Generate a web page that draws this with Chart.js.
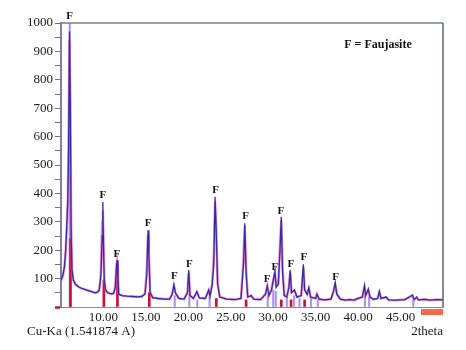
<!DOCTYPE html>
<html>
<head>
<meta charset="utf-8">
<script src="https://cdn.jsdelivr.net/npm/chart.js@4.4.1/dist/chart.umd.min.js"></script>
<style>
html,body{margin:0;padding:0;background:#fff;}
canvas{display:block;}
</style>
</head>
<body>
<canvas id="c" width="466" height="350"></canvas>
<script>
// ---- data ----
const twoTheta = [5.0,5.2,5.4,5.55,5.7,5.8,5.9,6.0,6.1,6.2,6.3,6.45,6.7,7.0,7.4,7.8,8.2,8.6,9.0,9.3,9.5,9.7,9.85,9.93,10.0,10.1,10.25,10.5,10.9,11.2,11.4,11.5,11.6,11.7,11.8,12.2,12.8,13.4,14.0,14.5,14.9,15.1,15.25,15.35,15.5,15.8,16.5,17.2,17.8,18.1,18.3,18.5,18.9,19.5,19.9,20.05,20.2,20.6,21.0,21.3,22.0,22.4,22.55,22.8,23.0,23.15,23.3,23.45,23.7,24.5,25.5,26.2,26.5,26.65,26.8,27.0,27.4,27.7,28.5,29.1,29.3,29.5,29.8,30.0,30.2,30.35,30.6,30.8,30.95,31.1,31.3,31.6,31.85,32.0,32.15,32.5,32.8,33.3,33.55,33.7,34.0,34.2,34.4,35.0,35.15,35.4,36.0,36.8,37.1,37.3,37.5,37.9,38.5,39.0,39.5,40.0,40.5,40.75,40.9,41.2,41.4,41.8,42.3,42.5,42.7,43.3,43.6,44.5,45.5,46.2,46.4,46.6,46.9,47.1,47.8,48.5,49.2,50.0];
const intensity = [95,110,140,200,300,380,560,970,700,250,130,95,80,72,66,62,58,54,50,52,58,110,250,370,220,90,60,50,46,48,70,120,165,110,45,40,38,37,36,37,45,110,270,180,50,33,30,28,28,45,78,48,30,28,50,130,40,30,55,32,30,60,38,75,150,388,250,80,35,28,26,30,150,295,120,35,40,28,26,45,75,40,60,95,125,70,80,200,318,120,40,35,70,130,50,60,35,40,150,60,45,68,35,30,45,28,25,28,55,85,45,28,24,26,24,30,35,75,40,63,35,27,30,55,30,35,25,24,26,38,42,26,35,25,27,24,26,25];
// pink (fitted) trace, same 2theta positions
const fitIntensity = [92,108,140,195,290,360,600,940,720,280,135,95,80,72,66,62,58,54,50,52,60,120,300,340,250,95,60,50,46,48,72,140,160,115,45,40,38,37,36,37,48,130,255,190,52,33,30,28,28,46,74,48,30,28,52,120,42,30,52,32,30,58,40,80,180,370,270,85,36,28,26,30,170,285,140,36,40,28,26,46,72,42,62,92,120,72,82,220,305,140,42,35,72,125,52,58,35,40,140,62,45,65,35,30,44,28,25,28,55,80,45,28,24,26,24,30,35,70,42,60,35,27,30,52,30,35,25,24,26,38,40,26,34,25,27,24,26,25];
// stick patterns
const violetStickX = [6.03,18.4,20.12,21.05,22.5,29.35,30.0,30.3,31.6,32.45,33.1,34.45,35.25,40.8,41.3,46.5];
const violetStickY = [1000,40,45,25,35,40,60,55,30,40,30,35,25,40,35,25];
const redStickX = [6.12,10.05,11.65,15.4,23.3,26.8,30.95,32.1,33.7];
const redStickY = [240,95,150,50,30,25,25,25,25];
// "F" peak labels (position in data units)
const fLabelX = [6.0,9.93,11.58,15.26,18.34,20.12,23.22,26.75,29.29,30.2,30.9,32.08,33.6,37.36];
const fLabelY = [1025,394,185,295,109,150,412,321,99,140,339,151,174,105];
const xTickValues = [10,15,20,25,30,35,40,45];
const yMin = 0, yMax = 1000, xMin = 5, xMax = 50;

const serif = '"Liberation Serif", "DejaVu Serif", serif';

const decor = {
  id: 'decor',
  afterDatasetsDraw(chart) {
    const {ctx, chartArea: a, scales: {x, y}} = chart;
    ctx.save();
    // frame top/right
    ctx.strokeStyle = '#7d7d7d';
    ctx.lineWidth = 1.5;
    ctx.beginPath();
    ctx.moveTo(a.left, a.top);
    ctx.lineTo(a.right, a.top);
    ctx.stroke();
    ctx.strokeStyle = '#5a6478';
    ctx.beginPath();
    ctx.moveTo(a.right, a.top);
    ctx.lineTo(a.right, a.bottom);
    ctx.stroke();
    // F labels
    ctx.fillStyle = '#111';
    ctx.font = 'bold 11px ' + serif;
    ctx.textAlign = 'center';
    ctx.textBaseline = 'middle';
    fLabelX.forEach((v, i) => {
      ctx.fillText('F', x.getPixelForValue(v), y.getPixelForValue(fLabelY[i]));
    });
    // legend text
    ctx.font = 'bold 12px ' + serif;
    ctx.fillText('F = Faujasite', a.right - 65, a.top + 22);
    // axis captions
    ctx.font = '13px ' + serif;
    ctx.fillStyle = '#1a1a1a';
    ctx.textAlign = 'left';
    ctx.fillText('Cu-Ka (1.541874 A)', a.left - 34, a.bottom + 25);
    ctx.textAlign = 'right';
    ctx.fillText('2theta', a.right, a.bottom + 25);
    // orange scale marker
    ctx.fillStyle = '#f26a4b';
    ctx.fillRect(a.right - 22, a.bottom + 2, 22, 6);
    ctx.restore();
  }
};

new Chart(document.getElementById('c'), {
  type: 'line',
  data: {
    datasets: [
      {
        type: 'bar',
        data: violetStickX.map((v, i) => ({x: v, y: violetStickY[i]})),
        backgroundColor: 'rgba(160,130,232,0.85)',
        barThickness: 1.5,
        grouped: false,
        order: 4
      },
      {
        type: 'bar',
        data: redStickX.map((v, i) => ({x: v, y: redStickY[i]})),
        backgroundColor: '#c8103c',
        barThickness: 2,
        grouped: false,
        order: 3
      },
      {
        data: twoTheta.map((v, i) => ({x: v, y: fitIntensity[i]})),
        borderColor: 'rgba(212,95,195,0.7)',
        borderWidth: 2.5,
        pointRadius: 0,
        tension: 0,
        order: 2
      },
      {
        data: twoTheta.map((v, i) => ({x: v, y: intensity[i]})),
        borderColor: '#3a2a9e',
        borderWidth: 1.3,
        pointRadius: 0,
        tension: 0,
        order: 1
      }
    ]
  },
  options: {
    responsive: false,
    animation: false,
    devicePixelRatio: 1,
    layout: {padding: {top: 23, right: 23, left: 0, bottom: 0}},
    plugins: {legend: {display: false}, tooltip: {enabled: false}},
    scales: {
      x: {
        type: 'linear',
        min: xMin,
        max: xMax,
        offset: false,
        afterBuildTicks(scale) {
          scale.ticks = xTickValues.map(v => ({value: v}));
        },
        afterFit(scale) { scale.height = 43; },
        grid: {drawOnChartArea: false, drawTicks: false},
        border: {color: '#8a8a8a', width: 1},
        ticks: {
          padding: 3,
          maxRotation: 0,
          autoSkip: false,
          color: '#1a1a1a',
          font: {family: serif, size: 13},
          callback: v => Number(v).toFixed(2)
        }
      },
      y: {
        min: yMin,
        max: yMax,
        afterFit(scale) { scale.width = 61; },
        grid: {
          drawOnChartArea: false,
          tickLength: 6,
          tickColor: ctx => ctx.tick && ctx.tick.value === 0 ? '#d0102a' : '#6a7080',
          tickWidth: ctx => ctx.tick && ctx.tick.value === 0 ? 2.5 : 1
        },
        border: {color: '#7784a6', width: 2},
        ticks: {
          stepSize: 50,
          padding: 2,
          autoSkip: false,
          color: '#1a1a1a',
          font: {family: serif, size: 13},
          callback: v => (v % 100 === 0 && v !== 0) ? String(v) : ''
        }
      }
    }
  },
  plugins: [decor]
});
</script>
</body>
</html>
